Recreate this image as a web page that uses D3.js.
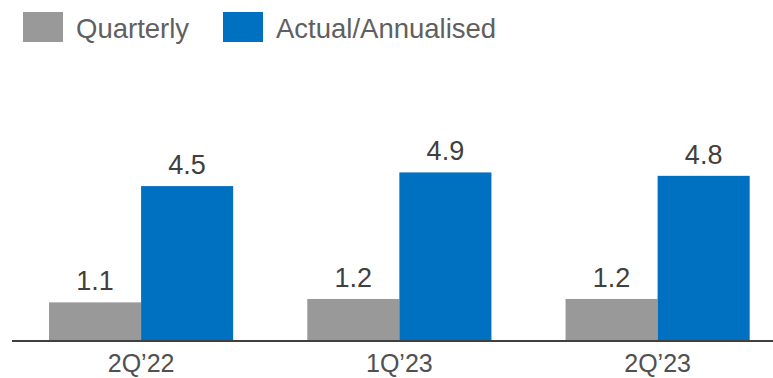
<!DOCTYPE html>
<html>
<head>
<meta charset="utf-8">
<script src="https://cdn.jsdelivr.net/npm/d3@7"></script>
<style>
	body { margin: 0; background: #fff; }
	svg { display: block; font-family: "Liberation Sans", Arial, sans-serif; }
</style>
</head>
<body>
<svg width="773" height="378"></svg>
<script>
const categories = ["2Q\u201922", "1Q\u201923", "2Q\u201923"];
const seriesNames = ["Quarterly", "Actual/Annualised"];
const quarterly = [1.1, 1.2, 1.2];
const annualised = [4.5, 4.9, 4.8];
const colors = ["#999999", "#0070c0"];

const svg = d3.select("svg");
const width = 773;
const baseline = 340;

const xScale = d3.scaleBand()
				 .domain(categories)
				 .range([23.2, 775.5])
				 .paddingInner(0.287)
				 .paddingOuter(0.1);

const xSub = d3.scaleBand()
			   .domain(seriesNames)
			   .range([0, xScale.bandwidth()]);

const yScale = d3.scaleLinear()
				 .domain([0, 5])
				 .range([baseline, baseline - 171]);

const rows = categories.map((c, i) => ({
	category: c,
	values: [
		{ name: seriesNames[0], value: quarterly[i] },
		{ name: seriesNames[1], value: annualised[i] }
	]
}));

const groups = svg.selectAll("g.group")
				  .data(rows)
				  .enter()
				  .append("g")
				  .attr("class", "group")
				  .attr("transform", d => `translate(${xScale(d.category)}, 0)`);

groups.selectAll("rect")
	  .data(d => d.values)
	  .enter()
	  .append("rect")
	  .attr("x", d => xSub(d.name))
	  .attr("y", d => yScale(d.value))
	  .attr("width", xSub.bandwidth())
	  .attr("height", d => baseline - yScale(d.value))
	  .attr("fill", (d, i) => colors[i]);

groups.selectAll("text.value")
	  .data(d => d.values)
	  .enter()
	  .append("text")
	  .attr("class", "value")
	  .attr("x", d => xSub(d.name) + xSub.bandwidth() / 2)
	  .attr("y", d => yScale(d.value) - 12)
	  .attr("text-anchor", "middle")
	  .attr("font-size", "27px")
	  .attr("fill", "#404040")
	  .text(d => d.value.toFixed(1));

// x axis
const xAxis = d3.axisBottom(xScale).tickSize(0).tickPadding(0);
const xg = svg.append("g")
			  .attr("transform", `translate(0, ${baseline + 1})`)
			  .call(xAxis);
xg.select(".domain").remove();
xg.selectAll(".tick text")
  .attr("y", 31)
  .attr("dy", 0)
  .attr("font-size", "25px")
  .attr("font-family", "Liberation Sans, Arial, sans-serif")
  .attr("fill", "#505050");

svg.append("line")
   .attr("x1", 12)
   .attr("x2", width)
   .attr("y1", baseline + 1)
   .attr("y2", baseline + 1)
   .attr("stroke", "#404040")
   .attr("stroke-width", 2);

// legend
const legendX = [23, 223];
const legend = svg.selectAll("g.legend")
				  .data(seriesNames)
				  .enter()
				  .append("g")
				  .attr("class", "legend")
				  .attr("transform", (d, i) => `translate(${legendX[i]}, 12)`);

legend.append("rect")
	  .attr("width", 40)
	  .attr("height", 30)
	  .attr("fill", (d, i) => colors[i]);

legend.append("text")
	  .attr("x", 53)
	  .attr("y", 26)
	  .attr("font-size", "27.5px")
	  .attr("fill", "#606060")
	  .text(d => d);
</script>
</body>
</html>
